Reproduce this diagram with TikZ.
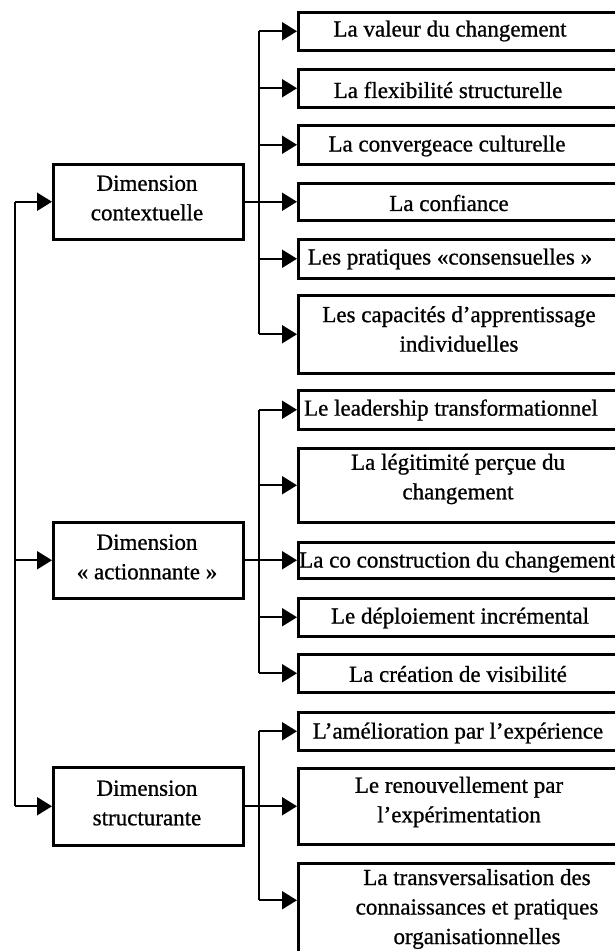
\documentclass[tikz,border=0pt]{standalone}
\usepackage{fontspec}
\setmainfont{Liberation Serif}
\newfontfamily\heavyserif{Liberation Serif}[FakeBold=0.8]
\usetikzlibrary{arrows.meta}
\begin{document}
\begin{tikzpicture}[x=1pt,y=-1pt,
  box/.style={draw=black, line width=2.5pt, anchor=north west, inner sep=0pt},
  txt/.style={font=\heavyserif\fontsize{23}{29.5}\selectfont, align=center, inner sep=0pt, yshift=-2pt},
  conn/.style={line width=2pt, draw=black},
  arr/.style={conn, -{Triangle[length=15pt,width=18pt]}},
  trunk/.style={line width=2.4pt, draw=black}]
\useasboundingbox (0,0) rectangle (615,951);
\clip (0,0) rectangle (615,951);
\fill[white] (0,0) rectangle (615,951);

% parent boxes
\node[box, minimum width=190pt, minimum height=75pt] (ctx) at (52,163) {};
\node[box, minimum width=190pt, minimum height=76pt] (act) at (52,521) {};
\node[box, minimum width=190pt, minimum height=78pt] (str) at (52,766) {};

% child boxes
\node[box, minimum width=333pt, minimum height=38pt] (b1) at (297,11) {};
\node[box, minimum width=333pt, minimum height=38pt] (b2) at (297,68) {};
\node[box, minimum width=333pt, minimum height=39pt] (b3) at (297,124) {};
\node[box, minimum width=333pt, minimum height=37pt] (b4) at (297,182) {};
\node[box, minimum width=333pt, minimum height=39pt] (b5) at (297,238) {};
\node[box, minimum width=333pt, minimum height=78pt] (b6) at (297,294) {};
\node[box, minimum width=333pt, minimum height=39pt] (b7) at (297,389) {};
\node[box, minimum width=333pt, minimum height=74pt] (b8) at (297,447) {};
\node[box, minimum width=333pt, minimum height=36pt] (b9) at (297,541) {};
\node[box, minimum width=333pt, minimum height=38pt] (b10) at (297,597) {};
\node[box, minimum width=333pt, minimum height=38pt] (b11) at (297,653) {};
\node[box, minimum width=333pt, minimum height=38pt] (b12) at (297,711) {};
\node[box, minimum width=333pt, minimum height=76pt] (b13) at (297,767) {};
\node[box, minimum width=333pt, minimum height=110pt] (b14) at (297,862) {};

% texts
\node[txt] (p1) at (147,196) {Dimension\\contextuelle};
\node[txt] (p2) at (147,555) {Dimension\\« actionnante »};
\node[txt] (p3) at (147,801) {Dimension\\structurante};

\node[txt] (l1) at (450,29) {La valeur du changement};
\node[txt] (l2) at (448,88) {La flexibilité structurelle};
\node[txt] (l3) at (447,144) {La convergeace culturelle};
\node[txt] (l4) at (449,201) {La confiance};
\node[txt] (l5) at (450,257) {Les pratiques «consensuelles »};
\node[txt] (l6) at (459,327) {Les capacités d’apprentissage\\individuelles};
\node[txt] (l7) at (451,408) {Le leadership transformationnel};
\node[txt] (l8) at (458,477) {La légitimité perçue du\\changement};
\node[txt, anchor=west] (l9) at (299,560) {La co construction du changement};
\node[txt] (l10) at (460,616) {Le déploiement incrémental};
\node[txt] (l11) at (458,672) {La création de visibilité};
\node[txt] (l12) at (458,731) {L’amélioration par l’expérience};
\node[txt] (l13) at (459,800) {Le renouvellement par\\l’expérimentation};
\node[txt] (l14) at (477,907) {La transversalisation des\\connaissances et pratiques\\organisationnelles};

% trunk coordinates
\coordinate (L) at (15,0);
\coordinate (T) at (259,0);
\coordinate (a14) at ([yshift=18pt]b14.west);

% left spine
\draw[conn] (L |- ctx.west) -- (L |- str.west);
\foreach \p in {ctx,act,str} \draw[arr] (L |- \p.west) -- (\p.west);

% group 1
\draw[trunk] (T |- b1.west) -- (T |- b6.west);
\draw[conn] (ctx.east) -- (T |- ctx.east);
\foreach \b in {b1,b2,b3,b4,b5,b6} \draw[arr] (T |- \b.west) -- (\b.west);

% group 2
\draw[trunk] (T |- b7.west) -- (T |- b11.west);
\draw[conn] (act.east) -- (T |- act.east);
\foreach \b in {b7,b8,b9,b10,b11} \draw[arr] (T |- \b.west) -- (\b.west);

% group 3
\draw[trunk] (T |- b12.west) -- (T |- a14);
\draw[conn] (str.east) -- (T |- str.east);
\foreach \b in {b12,b13} \draw[arr] (T |- \b.west) -- (\b.west);
\draw[arr] (T |- a14) -- (a14);
\end{tikzpicture}
\end{document}
